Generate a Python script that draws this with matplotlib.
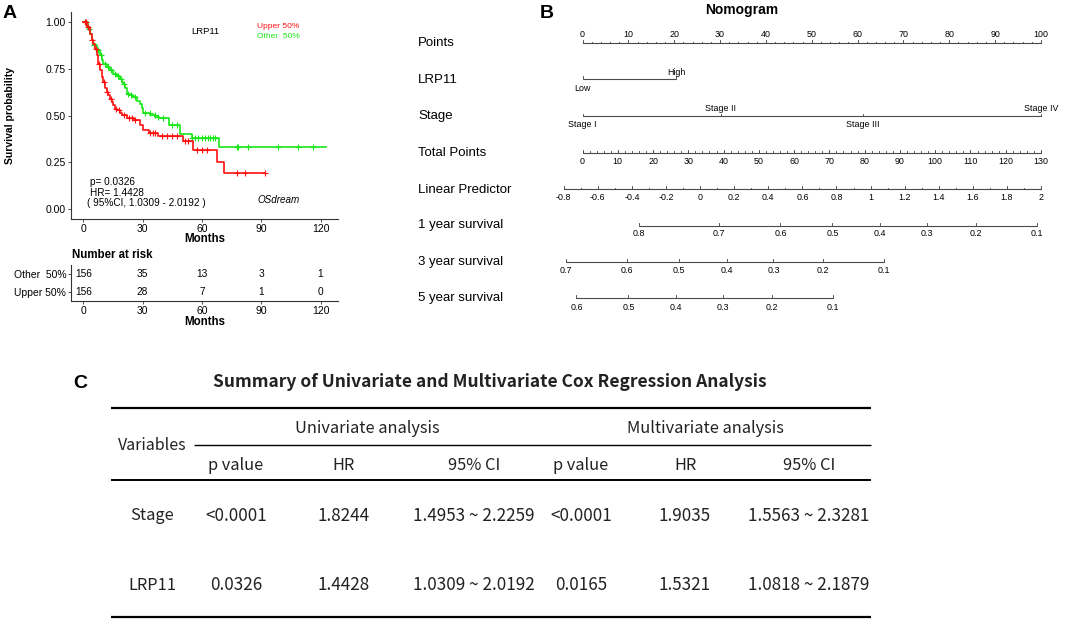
import numpy as np
import matplotlib
matplotlib.use("Agg")
import matplotlib.pyplot as plt

plt.rcParams["font.family"] = ["Liberation Sans", "DejaVu Sans"]

W, H = 1065, 620

# ---------------- Panel A data ----------------
upper_time = [0, 1.7, 3.4, 4.2, 5.1, 5.9, 6.8, 7.6, 8.4, 9.3, 10.1, 11.0, 11.8, 12.6, 13.5,
              14.4, 15.2, 16.0, 16.9, 18.6, 19.5, 22.0, 25.4, 28.7, 30.4, 33.0, 38.0, 50.4,
              55.6, 67.8, 71.4]
upper_surv = [1.0, 0.971, 0.936, 0.900, 0.883, 0.856, 0.821, 0.777, 0.741, 0.705, 0.679,
              0.644, 0.626, 0.608, 0.590, 0.572, 0.555, 0.537, 0.528, 0.515, 0.503, 0.487,
              0.476, 0.449, 0.423, 0.407, 0.389, 0.363, 0.318, 0.253, 0.192]
upper_end = 92.0
upper_censor = [0.8, 1.2, 2.5, 4.6, 6.2, 8.0, 10.5, 12.2, 14.0, 16.4, 18.0, 20.5, 23.0, 24.5,
                26.1, 33.7, 35.4, 36.3, 39.6, 42.2, 44.7, 47.2, 51.4, 53.1, 57.4, 59.9, 62.4,
                77.6, 81.8, 92.0]

other_time = [0, 2.5, 3.4, 4.2, 5.1, 6.8, 8.4, 9.3, 10.1, 11.8, 13.5, 15.2, 16.9, 18.6, 19.4,
              20.2, 21.1, 21.9, 23.6, 25.3, 27.0, 28.7, 29.7, 30.4, 33.8, 36.4, 38.5, 43.1,
              49.0, 54.8, 68.8]
other_surv = [1.0, 0.963, 0.936, 0.900, 0.874, 0.847, 0.821, 0.794, 0.777, 0.759, 0.745,
              0.723, 0.709, 0.697, 0.679, 0.666, 0.644, 0.617, 0.608, 0.596, 0.578, 0.560,
              0.540, 0.515, 0.505, 0.493, 0.485, 0.448, 0.402, 0.378, 0.330]
other_end = 123.0
other_censor = [1.0, 3.0, 5.5, 7.5, 9.0, 11.0, 12.5, 14.2, 16.0, 17.5, 19.0, 20.6, 22.5, 24.0,
                26.1, 31.2, 33.7, 36.3, 37.9, 40.5, 44.7, 47.2, 54.8, 56.5, 58.2, 59.9, 61.5,
                63.2, 64.1, 65.8, 66.6, 77.6, 78.4, 83.5, 98.6, 108.7, 116.3]

km_xticks = [0, 30, 60, 90, 120]
km_yticks = [0.0, 0.25, 0.50, 0.75, 1.00]
risk_times = [0, 30, 60, 90, 120]
risk_labels = ["Upper 50%", "Other  50%"]
risk_upper = [156, 28, 7, 1, 0]
risk_other = [156, 35, 13, 3, 1]

# ---------------- Panel B data ----------------
points_ticks = list(range(0, 101, 10))
lrp11_levels = ["Low", "High"]
lrp11_points = [0.0, 20.5]
stage_levels = ["Stage I", "Stage II", "Stage III", "Stage IV"]
stage_points = [0.0, 30.2, 61.2, 100.0]
total_ticks = list(range(0, 131, 10))
total_max = 130
lp_ticks = [-0.8, -0.6, -0.4, -0.2, 0, 0.2, 0.4, 0.6, 0.8, 1, 1.2, 1.4, 1.6, 1.8, 2]
lp_at_points0 = -0.69
lp_at_points100 = 2.0
surv_names = ["1 year survival", "3 year survival", "5 year survival"]
baseline_surv = [0.727, 0.457, 0.348]
surv_ticks = [[0.8, 0.7, 0.6, 0.5, 0.4, 0.3, 0.2, 0.1],
              [0.7, 0.6, 0.5, 0.4, 0.3, 0.2, 0.1],
              [0.6, 0.5, 0.4, 0.3, 0.2, 0.1]]

# ---------------- Panel C data ----------------
table_title = "Summary of Univariate and Multivariate Cox Regression Analysis"
group_headers = ["Univariate analysis", "Multivariate analysis"]
sub_headers = ["p value", "HR", "95% CI", "p value", "HR", "95% CI"]
row_names = ["Stage", "LRP11"]
row_values = [["<0.0001", "1.8244", "1.4953 ~ 2.2259", "<0.0001", "1.9035", "1.5563 ~ 2.3281"],
              ["0.0326", "1.4428", "1.0309 ~ 2.0192", "0.0165", "1.5321", "1.0818 ~ 2.1879"]]

RED = "#FF1010"
GREEN = "#19E619"

fig = plt.figure(figsize=(W / 100, H / 100), dpi=100)


def rect(x0, y0, x1, y1):
    return [x0 / W, 1 - y1 / H, (x1 - x0) / W, (y1 - y0) / H]


def T(px, py, s, **kw):
    kw.setdefault("va", "center")
    return fig.text(px / W, 1 - py / H, s, **kw)


# ================= Panel A: KM =================
px_per_month = 1.977
x0px = 83.3
xl = ((71 - x0px) / px_per_month, (338 - x0px) / px_per_month)
ax = fig.add_axes(rect(71, 12.3, 338, 218.7))
ax.set_xlim(*xl)
ax.set_ylim(-0.05, 1.05)


def draw_km(ax, t, s, end, cens, color):
    xs = list(t) + [end]
    ys = list(s) + [s[-1]]
    ax.step(xs, ys, where="post", color=color, lw=1.2)
    t_arr = np.array(t)
    idx = np.searchsorted(t_arr, np.array(cens), side="right") - 1
    cy = np.array(s)[idx]
    ax.plot(cens, cy, ls="none", marker="+", ms=4, mew=0.8, color=color)


draw_km(ax, other_time, other_surv, other_end, other_censor, GREEN)
draw_km(ax, upper_time, upper_surv, upper_end, upper_censor, RED)
for sp in ["top", "right"]:
    ax.spines[sp].set_visible(False)
for sp in ["left", "bottom"]:
    ax.spines[sp].set_color("#333333")
    ax.spines[sp].set_linewidth(0.8)
ax.set_xticks(km_xticks)
ax.set_yticks(km_yticks)
ax.set_yticklabels([f"{v:.2f}" for v in km_yticks])
ax.tick_params(labelsize=7.5, length=2.5, width=0.6, color="#333333", pad=1.2)

T(10.5, 115, "Survival probability", rotation=90, ha="center", fontsize=7.5, fontweight="bold")
T(204.5, 239.5, "Months", ha="center", fontsize=8.3, fontweight="bold")
T(205, 32, "LRP11", ha="center", fontsize=6.8)
T(257, 27, "Upper 50%", ha="left", fontsize=6, color=RED)
T(257, 37, "Other  50%", ha="left", fontsize=6, color=GREEN)
T(90, 181.7, "p= 0.0326", ha="left", fontsize=7.2)
T(90, 192.7, "HR= 1.4428", ha="left", fontsize=7.2)
T(87.3, 203.3, "( 95%CI, 1.0309 - 2.0192 )", ha="left", fontsize=7.2)
T(257, 200, "OSdream", ha="left", fontsize=7.1, style="italic")
T(3, 14, "A", ha="left", fontsize=14, fontweight="bold")

# risk table
axr = fig.add_axes(rect(71, 265, 338, 301))
axr.set_xlim(*xl)
axr.set_ylim(0.5, 2.5)
for sp in ["top", "right"]:
    axr.spines[sp].set_visible(False)
for sp in ["left", "bottom"]:
    axr.spines[sp].set_color("#333333")
    axr.spines[sp].set_linewidth(0.8)
axr.set_yticks([1, 2])
axr.set_yticklabels(risk_labels)
axr.set_xticks(risk_times)
axr.tick_params(labelsize=7.5, length=2.5, width=0.6, color="#333333", pad=1.0)
for tt, a, b in zip(risk_times, risk_upper, risk_other):
    axr.text(tt, 1, str(a), ha="center", va="center", fontsize=7.3)
    axr.text(tt, 2, str(b), ha="center", va="center", fontsize=7.3)
T(72, 255, "Number at risk", ha="left", fontsize=8.3, fontweight="bold")
T(204.5, 322, "Months", ha="center", fontsize=8.3, fontweight="bold")

# ================= Panel B: Nomogram =================
p0px, ppx = 582.5, 4.585
axn = fig.add_axes(rect(540, 0, 1065, 320))
axn.set_xlim((540 - p0px) / ppx, (1065 - p0px) / ppx)
axn.set_ylim(320, 0)
axn.axis("off")
LC = "#4a4a4a"
LW = 0.8
TF = 6.4


def hline(x1, x2, y):
    axn.plot([x1, x2], [y, y], color=LC, lw=LW, solid_capstyle="butt")


def ticks(xs, y, length):
    for x in xs:
        axn.plot([x, x], [y, y - length], color=LC, lw=LW * 0.8)


def lp_to_x(lp):
    return (np.asarray(lp, dtype=float) - lp_at_points0) / (lp_at_points100 - lp_at_points0) * 100


def fmt(v):
    return f"{v:g}"


rows_y = {"Points": 43, "LRP11": 80, "Stage": 116, "Total Points": 153,
          "Linear Predictor": 190, surv_names[0]: 225, surv_names[1]: 262, surv_names[2]: 298}
for name, yy in rows_y.items():
    T(418, yy, name, ha="left", fontsize=9.5)

# Points
yP = 43.3
hline(0, 100, yP)
ticks(np.arange(0, 101, 2), yP, 1.5)
ticks(points_ticks, yP, 3)
for v in points_ticks:
    axn.text(v, 34.5, str(v), ha="center", va="center", fontsize=TF)

# LRP11
yL = 78.6
hline(lrp11_points[0], lrp11_points[1], yL)
ticks(lrp11_points, yL, 2.5)
axn.text(lrp11_points[0], 88.3, lrp11_levels[0], ha="center", va="center", fontsize=TF)
axn.text(lrp11_points[1], 72.5, lrp11_levels[1], ha="center", va="center", fontsize=TF)

# Stage
yS = 116
hline(stage_points[0], stage_points[-1], yS)
ticks(stage_points, yS, 2.5)
for i, (lab, v) in enumerate(zip(stage_levels, stage_points)):
    axn.text(v, 124.5 if i % 2 == 0 else 108.8, lab, ha="center", va="center", fontsize=TF)

# Total points
yT = 152.7
tx = np.array(total_ticks) * 100 / total_max
hline(0, 100, yT)
ticks(np.arange(0, total_max + 1, 2) * 100 / total_max, yT, 1.5)
ticks(tx, yT, 3)
for v, x in zip(total_ticks, tx):
    axn.text(x, 161.7, str(v), ha="center", va="center", fontsize=TF)

# Linear predictor
yLP = 189
lx = lp_to_x(lp_ticks)
hline(lx[0], lx[-1], yLP)
ticks(lp_to_x(np.arange(-8, 21) / 10), yLP, 1.5)
ticks(lx, yLP, 3)
for v, x in zip(lp_ticks, lx):
    axn.text(x, 197, fmt(v), ha="center", va="center", fontsize=TF)

# Survival axes
for (yy, ylab), s0, tk in zip([(225.7, 234), (261.7, 270.7), (298.3, 307.3)], baseline_surv, surv_ticks):
    tkv = np.array(tk)
    lp = np.log(np.log(tkv) / np.log(s0))
    xs = lp_to_x(lp)
    hline(xs[0], xs[-1], yy)
    ticks(xs, yy, 3)
    for v, x in zip(tk, xs):
        axn.text(x, ylab, fmt(v), ha="center", va="center", fontsize=TF)

T(742, 10, "Nomogram", ha="center", fontsize=10, fontweight="bold")
T(540, 13, "B", ha="left", fontsize=14, fontweight="bold")

# ================= Panel C: Table =================
TFAM = ["Noto Sans CJK KR", "DejaVu Sans"]
TC = "#222222"
axt = fig.add_axes(rect(0, 330, W, 620))
axt.set_xlim(0, W)
axt.set_ylim(620, 330)
axt.axis("off")

axt.plot([110.8, 870.7], [407.7, 407.7], color="black", lw=1.6, solid_capstyle="butt")
axt.plot([194, 870.7], [445, 445], color="black", lw=1.0, solid_capstyle="butt")
axt.plot([110.8, 870.7], [480, 480], color="black", lw=1.4, solid_capstyle="butt")
axt.plot([110.8, 870.7], [617.3, 617.3], color="black", lw=1.6, solid_capstyle="butt")

T(490, 381.7, table_title, ha="center", fontsize=12.5, fontweight="bold", family=TFAM, color=TC)
T(73, 383, "C", ha="left", fontsize=14, fontweight="bold")

HF = 11.8
VF = 12.3
col_x = [236, 344, 474, 581, 685, 809]
T(152, 446, "Variables", ha="center", fontsize=11.5, family=TFAM, color=TC)
T(367, 428.3, group_headers[0], ha="center", fontsize=HF, family=TFAM, color=TC)
T(705, 428.3, group_headers[1], ha="center", fontsize=HF, family=TFAM, color=TC)
for x, s in zip(col_x, sub_headers):
    T(x, 465, s, ha="center", fontsize=HF, family=TFAM, color=TC)
for yy, name, vals in zip([516, 585], row_names, row_values):
    T(152, yy, name, ha="center", fontsize=HF, family=TFAM, color=TC)
    for x, s in zip(col_x, vals):
        T(x, yy, s, ha="center", fontsize=VF, family=TFAM, color=TC)

fig.savefig("out.png", dpi=100)
